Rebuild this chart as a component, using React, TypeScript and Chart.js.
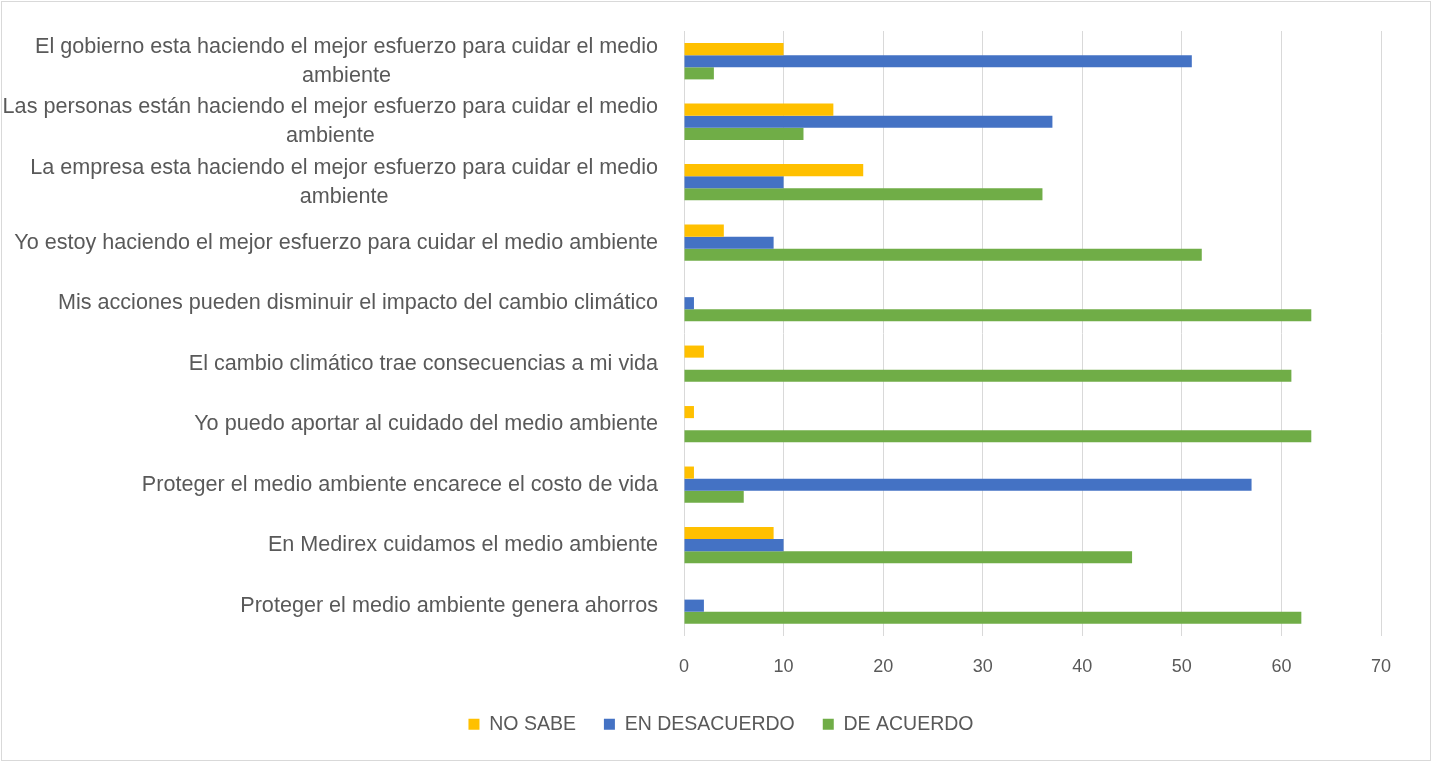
import React, { useEffect, useRef } from "react";
import { Chart, registerables } from "chart.js";

Chart.register(...registerables);

const categories: string[][] = [
  ["El gobierno esta haciendo el mejor esfuerzo para cuidar el medio", "ambiente"],
  ["Las personas están haciendo el mejor esfuerzo para cuidar el medio", "ambiente"],
  ["La empresa esta haciendo el mejor esfuerzo para cuidar el medio", "ambiente"],
  ["Yo estoy haciendo el mejor esfuerzo para cuidar el medio ambiente"],
  ["Mis acciones pueden disminuir el impacto del cambio climático"],
  ["El cambio climático trae consecuencias a mi vida"],
  ["Yo puedo aportar al cuidado del medio ambiente"],
  ["Proteger el medio ambiente encarece el costo de vida"],
  ["En Medirex cuidamos el medio ambiente"],
  ["Proteger el medio ambiente genera ahorros"],
];

const noSabe = [10, 15, 18, 4, 0, 2, 1, 1, 9, 0];
const enDesacuerdo = [51, 37, 10, 9, 1, 0, 0, 57, 10, 2];
const deAcuerdo = [3, 12, 36, 52, 63, 61, 63, 6, 45, 62];

const seriesNames = ["NO SABE", "EN DESACUERDO", "DE ACUERDO"];
const seriesColors = ["#FFC000", "#4472C4", "#70AD47"];

const FONT = "'Liberation Sans', Arial, sans-serif";
const TEXT = "#595959";

export default function App() {
  const ref = useRef<HTMLCanvasElement | null>(null);

  useEffect(() => {
    document.body.style.margin = "0";
    const canvas = ref.current;
    if (!canvas) return;

    const labelPlugin = {
      id: "catLabels",
      afterDraw(chart: any) {
        const ctx = chart.ctx;
        const y = chart.scales.y;
        ctx.save();
        ctx.font = `21.6px ${FONT}`;
        ctx.fillStyle = TEXT;
        ctx.textAlign = "center";
        ctx.textBaseline = "middle";
        const rightEdge = 658;
        const lh = 29;
        categories.forEach((lines, i) => {
          const cy = y.getPixelForValue(i);
          const w = Math.max(...lines.map((l) => ctx.measureText(l).width));
          const cx = rightEdge - w / 2;
          const start = cy - ((lines.length - 1) * lh) / 2;
          lines.forEach((l, j) => ctx.fillText(l, cx, start + j * lh));
        });
        ctx.strokeStyle = "#d9d9d9";
        ctx.lineWidth = 1;
        ctx.strokeRect(1.5, 1.5, 1429, 759);
        ctx.restore();
      },
    };

    const chart = new Chart(canvas, {
      type: "bar",
      data: {
        labels: categories.map((c) => c.join(" ")),
        datasets: [noSabe, enDesacuerdo, deAcuerdo].map((d, i) => ({
          label: seriesNames[i],
          data: d,
          backgroundColor: seriesColors[i],
          borderWidth: 0,
          categoryPercentage: 0.6,
          barPercentage: 1,
        })),
      },
      options: {
        indexAxis: "y",
        animation: false,
        responsive: false,
        layout: { padding: { top: 31, right: 51, left: 61, bottom: 18 } },
        scales: {
          x: {
            min: 0,
            max: 70,
            ticks: { stepSize: 10, color: TEXT, font: { family: FONT, size: 18 }, padding: 20 },
            grid: { color: "#d9d9d9", drawTicks: false },
            border: { display: false },
            afterFit: (scale: any) => {
              scale.height -= 11;
            },
          },
          y: {
            ticks: { display: false },
            grid: { display: false },
            border: { display: false },
            afterFit: (scale: any) => {
              scale.width = 623;
            },
          },
        },
        plugins: {
          legend: {
            position: "bottom",
            labels: {
              boxWidth: 11,
              boxHeight: 11,
              color: TEXT,
              padding: 28,
              font: { family: FONT, size: 19.5 },
            },
          },
          tooltip: { enabled: false },
        },
      },
      plugins: [labelPlugin],
    });
    return () => chart.destroy();
  }, []);

  return (
    <div style={{ width: 1432, height: 762 }}>
      <canvas ref={ref} width={1432} height={762} style={{ display: "block" }} />
    </div>
  );
}
